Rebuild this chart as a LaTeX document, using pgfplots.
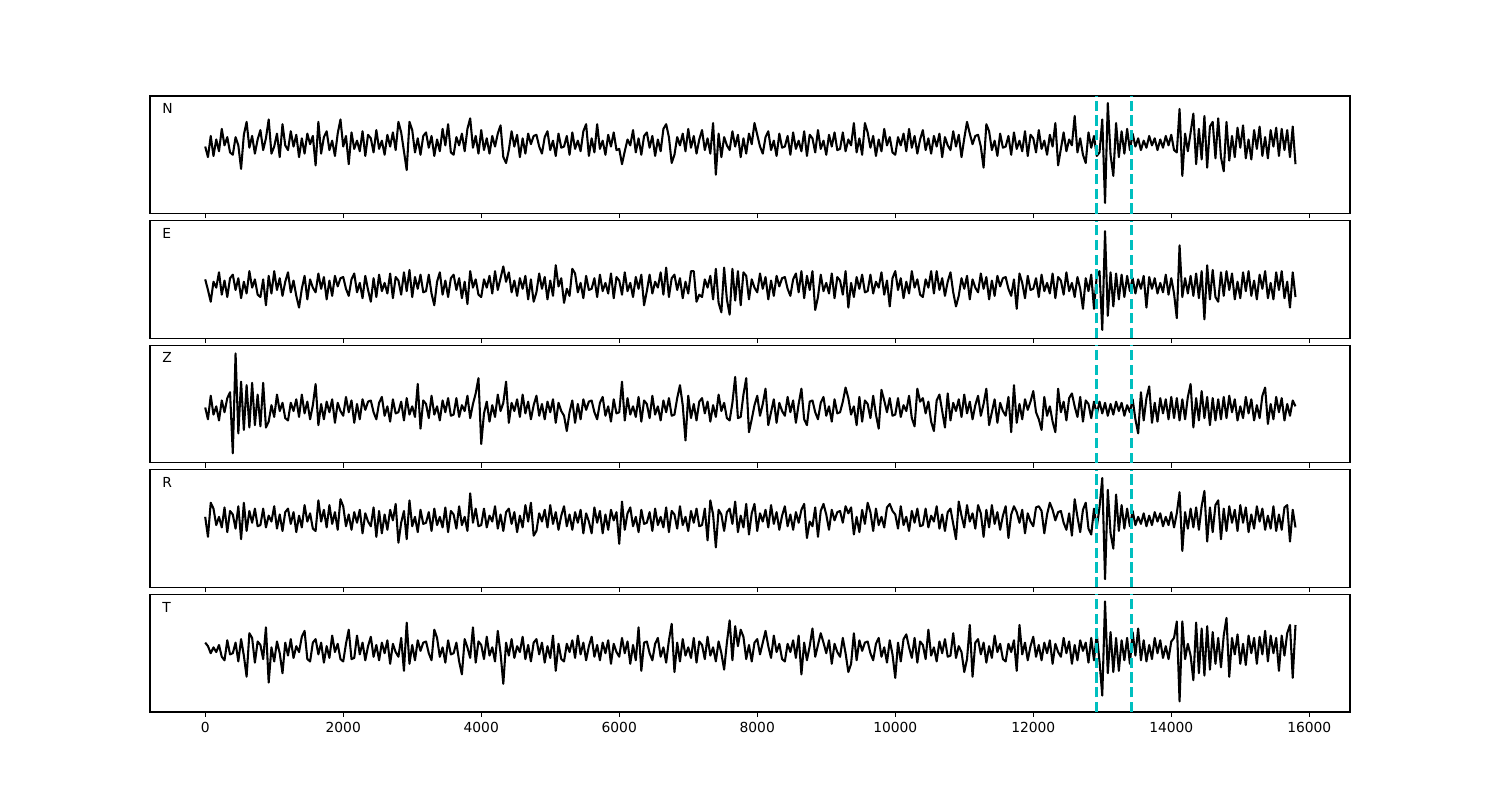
\documentclass[border=0pt]{standalone}
\usepackage{fontspec}
\setmainfont{DejaVu Sans}
\usepackage{pgfplots}
\usepackage{pgfplotstable}
\pgfplotsset{compat=1.18}
\definecolor{mplcyan}{rgb}{0,0.75,0.75}

% traces, in percent of panel height around each baseline
\pgfplotstableread{
x N E Z R T
0 -3 5 1 2 6
40 -12 -4 -9 -15 3
80 6 -14 11 14 -3
120 -11 3 -5 9 2
160 3 -2 2 -5 -2
200 -7 11 -10 2 4
240 12 -8 7 -7 -6
280 -2 4 -3 10 -9
320 5 -10 9 -11 8
360 -8 6 14 7 -4
400 -10 9 -38 4 -3
440 5 -4 47 -8 6
480 -2 6 -21 11 -10
520 -22 -11 23 -17 9
560 7 3 -18 14 -5
600 18 -7 20 -10 -23
640 -4 12 -16 7 14
680 6 -2 22 -3 10
720 -9 5 -14 9 -11
760 3 -8 12 -6 7
800 11 -10 -15 -5 4
840 -6 5 22 9 -8
880 4 -17 -16 -7 19
920 20 8 -11 3 -28
960 -9 -7 3 -2 2
1000 -3 12 -7 11 -10
1040 8 -4 12 -8 7
1080 -12 6 -2 4 -3
1120 16 -9 5 -10 -20
1160 -2 3 -8 6 6
1200 -6 11 -10 9 -5
1240 10 -6 5 -4 9
1280 -3 4 -2 6 -7
1320 7 -9 8 -11 3
1360 -12 -19 -7 3 -2
1400 4 -3 12 -7 11
1440 -9 8 -4 12 16
1480 8 -12 6 -2 -8
1520 -1 5 -9 5 -10
1560 6 -2 3 -8 6
1600 -19 -6 21 -10 9
1640 18 10 -14 16 -4
1680 -9 -3 4 -2 6
1720 5 7 -9 8 -11
1760 10 -12 6 -7 3
1800 -6 4 -3 12 -7
1840 2 -9 8 -4 12
1880 -11 8 -12 6 -2
1920 8 -1 5 -9 5
1960 20 6 -2 17 -8
2000 -3 7 -6 11 -10
2040 6 -3 10 -6 5
2080 -18 -9 -3 4 17
2120 9 5 7 -9 -8
2160 -5 10 -12 6 -7
2200 2 -6 4 -3 12
2240 -7 2 -9 8 -4
2280 10 -11 8 -12 6
2320 -11 8 -1 5 -9
2360 7 -4 6 -2 3
2400 4 -14 7 -6 11
2440 -8 6 -3 10 -6
2480 11 -10 -9 -15 4
2520 -5 9 5 7 -9
2560 2 -5 10 -12 6
2600 -10 2 -6 4 -3
2640 7 -7 2 -9 8
2680 -3 10 -11 8 -12
2720 9 -11 8 -1 5
2760 -6 7 -4 13 -2
2800 18 4 -3 -20 -6
2840 9 -8 6 -3 10
2880 -7 11 -10 7 -18
2920 -23 -5 9 -17 23
2960 18 13 -5 16 -12
3000 11 -10 2 -6 4
3040 -8 7 -7 2 -9
3080 4 -3 21 -11 8
3120 -10 9 -17 8 -1
3160 6 -6 7 -4 6
3200 9 -5 4 -3 7
3240 -4 9 -8 6 -3
3280 6 -7 11 -10 -9
3320 -11 -17 -5 9 17
3360 3 3 2 -5 10
3400 -7 11 -10 2 -6
3440 12 -8 7 -7 2
3480 -2 4 -3 10 -11
3520 16 -10 9 -11 8
3560 -8 6 -6 7 -4
3600 -10 9 -5 4 -3
3640 5 -4 9 -8 6
3680 -2 6 -7 11 -10
3720 8 -11 3 -5 -21
3760 -7 3 -2 2 9
3800 12 -16 11 -10 2
3840 21 12 -8 22 -7
3880 -4 -2 4 -3 19
3920 6 5 13 9 -11
3960 -9 -8 26 -6 7
4000 11 -10 -30 -5 4
4040 -6 5 -4 9 -8
4080 4 -2 6 -7 11
4120 -9 8 -11 3 -5
4160 6 -7 3 -2 2
4200 -3 12 -7 11 -10
4240 8 -4 12 -8 16
4280 15 6 -2 4 -3
4320 -12 16 5 -10 -29
4360 -17 3 23 6 6
4400 -6 11 -12 9 -5
4440 10 -6 5 -4 9
4480 -3 4 -2 6 -7
4520 7 -9 8 -11 3
4560 -12 6 -7 3 -2
4600 4 -3 12 -7 11
4640 -9 8 -4 12 -8
4680 8 -12 6 -2 4
4720 -1 5 -9 14 -10
4760 6 -14 3 -14 6
4800 7 -6 11 -10 9
4840 -3 10 -6 5 -4
4880 -9 -3 4 -2 6
4920 5 7 -9 8 -11
4960 10 -12 6 -7 3
5000 -6 4 -3 12 -7
5040 2 -9 8 -4 12
5080 -11 17 -12 6 -18
5120 8 -1 5 -9 5
5160 -4 6 -2 3 -8
5200 -3 -15 -6 11 -10
5240 6 -3 -19 -6 5
5280 -10 -9 -3 4 -2
5320 9 14 7 -9 8
5360 -5 10 -12 6 -7
5400 2 -6 4 -3 12
5440 -7 2 -9 8 -4
5480 10 -11 8 -12 6
5520 16 8 -1 5 -9
5560 -11 -4 6 -2 3
5600 4 -3 7 -12 11
5640 -8 6 -3 10 -6
5680 16 -10 -9 -3 4
5720 -5 9 5 7 -9
5760 2 -5 10 -12 6
5800 -10 2 -6 4 -3
5840 7 -7 2 -9 8
5880 -3 10 -11 8 -12
5920 9 -11 8 -1 5
5960 -6 7 -4 6 -2
6000 -5 4 -3 -21 -6
6040 -18 -8 23 15 10
6080 -7 11 -10 -9 -3
6120 3 -5 9 5 7
6160 -2 2 -5 10 -12
6200 11 -10 2 -6 4
6240 -8 7 -7 2 -9
6280 4 -3 10 -11 19
6320 -10 9 -11 8 -18
6360 6 -17 7 -4 6
6400 9 -5 4 -3 7
6440 -4 9 -8 6 -3
6480 6 -7 11 -10 -9
6520 -11 3 -5 9 5
6560 3 -2 2 -5 10
6600 -7 11 -10 2 -6
6640 12 -8 7 -7 2
6680 16 15 -3 10 -11
6720 5 -10 9 -11 8
6760 -17 6 -6 7 22
6800 -10 9 -5 4 -19
6840 5 -4 9 -8 6
6880 -2 6 20 11 -10
6920 8 -11 3 -5 9
6960 -7 3 -27 2 -5
7000 12 -7 11 -10 2
7040 -4 12 -8 7 -7
7080 6 12 4 -3 10
7120 -9 -14 -10 9 -11
7160 3 -8 6 -6 7
7200 11 -10 9 -5 4
7240 -6 5 -4 9 -8
7280 4 -2 6 -18 11
7320 -9 8 -11 16 -5
7360 17 -12 3 4 2
7400 -27 14 -7 -24 -10
7440 8 -15 12 8 7
7480 -12 -23 -2 4 -3
7520 5 15 5 -10 -17
7560 -2 -12 -8 6 6
7600 -6 -25 -10 9 25
7640 10 14 5 -4 -9
7680 -3 -13 27 15 20
7720 7 12 -8 -11 3
7760 -12 -17 -7 3 17
7800 4 11 12 -7 11
7840 -9 8 26 13 -8
7880 8 -12 -20 -13 4
7920 -1 5 -9 5 -10
7960 17 -2 3 13 6
8000 7 -6 11 -10 9
8040 -3 10 -6 5 -4
8080 -9 -3 4 -2 6
8120 5 7 17 8 16
8160 10 -12 -14 -7 3
8200 -6 4 -3 12 -7
8240 2 -9 8 -4 12
8280 -11 8 -12 6 -2
8320 8 -1 5 -9 5
8360 -4 6 -2 3 -8
8400 -3 7 -6 11 -10
8440 6 -3 10 -6 5
8480 -10 -9 -3 4 -2
8520 9 5 7 -9 8
8560 -5 10 -12 6 -7
8600 2 -6 4 -3 12
8640 -7 12 17 8 -21
8680 10 -11 -9 13 6
8720 -11 8 -14 -16 -9
8760 7 -4 6 -2 3
8800 4 12 7 -6 18
8840 -8 -21 -3 10 -6
8880 11 -10 -9 -15 4
8920 -5 9 5 7 14
8960 2 -5 10 13 6
9000 -10 2 -6 4 -3
9040 7 -7 2 -9 8
9080 -3 10 -11 8 -12
9120 9 -11 8 -1 5
9160 -6 7 -4 6 -2
9200 -5 4 -3 7 -6
9240 9 -8 6 -3 10
9280 -7 12 18 11 -3
9320 3 -19 9 5 -19
9360 -2 2 -5 10 -12
9400 17 -10 2 -13 14
9440 -8 7 -14 2 -9
9480 4 -3 10 -11 8
9520 -10 9 -11 8 -1
9560 17 -6 7 -4 6
9600 9 -5 4 14 7
9640 -4 9 -8 6 -3
9680 6 -7 11 -10 -9
9720 -11 3 -5 9 5
9760 3 -2 -17 -5 10
9800 -7 11 16 2 -6
9840 12 -8 7 -7 2
9880 -2 4 -3 10 -11
9920 5 -18 9 13 8
9960 -8 6 -6 7 -4
10000 -10 12 -5 4 -24
10040 5 -4 9 -8 6
10080 -2 6 -7 11 -10
10120 8 -11 3 -5 9
10160 -7 3 -2 2 13
10200 12 -7 11 -10 2
10240 -4 12 -8 7 -7
10280 6 -2 -15 -3 10
10320 -9 5 17 9 -11
10360 3 -8 6 -6 7
10400 11 -10 9 -5 4
10440 -6 5 -4 9 -8
10480 4 -2 6 -7 17
10520 -9 12 -11 3 -5
10560 6 -7 -19 -2 2
10600 -3 12 7 11 -10
10640 8 -4 12 -8 7
10680 -12 6 -2 4 -3
10720 5 -9 -16 -10 9
10760 -2 3 13 6 -6
10800 -6 11 -10 9 -5
10840 10 -6 5 -4 14
10880 -3 -18 -2 -17 -7
10920 7 -9 8 15 3
10960 -12 6 -7 3 -2
11000 4 -3 12 -7 -19
11040 18 8 -4 12 -8
11080 8 -12 6 -2 21
11120 -1 5 -9 5 -23
11160 6 -2 3 -8 6
11200 7 -6 11 12 9
11240 -3 10 -6 5 -4
11280 -21 -3 4 -15 6
11320 16 7 17 8 -11
11360 10 -12 -14 -7 3
11400 -6 4 -3 12 -7
11440 2 -9 8 -4 12
11480 -11 8 -12 6 -2
11520 8 -1 5 -9 5
11560 -4 6 -2 3 -8
11600 -3 7 -6 11 -10
11640 6 -3 10 -16 5
11680 -10 -9 -20 4 -2
11720 9 5 20 11 8
11760 -5 -20 -12 6 -18
11800 2 10 4 -3 21
11840 -7 2 -9 8 -4
11880 10 -11 8 -12 6
11920 -11 8 -1 5 -9
11960 7 -4 6 -2 3
12000 4 -3 15 -6 11
12040 -8 6 -3 10 -6
12080 11 -10 -9 11 4
12120 -5 9 -18 7 -9
12160 2 -5 10 -12 6
12200 -10 2 -6 4 -3
12240 7 -7 2 14 8
12280 -3 10 -11 8 -12
12320 17 -11 -20 -1 5
12360 -19 7 17 6 -2
12400 -5 4 -3 7 -6
12440 9 -8 6 -3 10
12480 -7 11 -10 -9 -3
12520 3 -5 9 5 7
12560 -2 2 13 -14 -12
12600 23 -10 2 17 4
12640 -8 7 -7 2 -9
12680 4 -3 10 -11 8
12720 -10 -20 -11 8 -1
12760 -17 6 7 14 6
12800 9 -5 4 -8 -11
12840 -4 9 -8 -13 10
12880 6 -20 6 9 -9
12920 -11 8 -5 -7 13
12960 -8 12 6 10 -10
13000 20 -38 -4 35 -39
13040 -51 46 5 -51 41
13080 34 -26 -6 25 -20
13120 -10 11 4 -12 15
13160 -28 -18 -5 -25 -19
13200 17 10 6 21 10
13240 -12 -12 -2 -10 -18
13280 10 9 5 12 8
13320 -9 -10 -6 -8 -9
13360 12 8 3 9 10
13400 -6 -5 -3 -6 -12
13440 8 6 8 7 15
13480 -3 -7 -9 -5 -5
13520 4 5 -21 2 18
13560 -6 -3 14 -4 -9
13600 2 8 -10 5 8
13640 -4 -19 9 -6 -10
13680 6 7 19 3 4
13720 -2 -3 -12 -5 -8
13760 4 6 5 6 10
13800 -6 -7 -11 -2 -3
13840 3 2 9 5 8
13880 -4 -6 -4 -6 -7
13920 6 9 8 2 3
13960 -2 -8 -9 -5 -8
14000 7 6 10 6 7
14040 -6 -7 -8 -7 10
14080 -8 -28 9 5 24
14120 29 34 -10 23 -44
14160 -28 -10 8 -27 24
14200 8 6 -9 6 -8
14240 -7 -7 10 -8 5
14280 9 8 21 9 -5
14320 25 -9 -16 -7 -26
14360 -18 10 9 10 23
14400 12 -11 -10 -9 -20
14440 -14 12 15 11 18
14480 23 -29 -8 24 -22
14520 -21 17 10 -19 20
14560 14 -12 -14 10 -17
14600 18 13 9 -11 15
14640 -13 -10 -10 12 -12
14680 21 -14 8 16 10
14720 -12 11 -9 -17 -15
14760 -24 -9 10 9 12
14800 18 12 -8 -10 27
14840 -15 -4 11 11 -23
14880 6 10 -3 -3 10
14920 -12 -12 8 8 -4
14960 13 3 -10 -10 13
15000 -4 -11 2 12 -12
15040 15 11 -8 -3 5
15080 -13 -5 10 10 -13
15120 3 12 -4 -11 12
15160 -14 -9 8 4 -3
15200 11 4 -10 -8 10
15240 -5 -12 3 11 -12
15280 14 9 -8 -2 11
15320 -11 -3 11 9 -4
15360 5 12 18 -9 16
15400 -13 -11 -13 3 -10
15440 11 2 4 -8 12
15480 -3 -12 -9 11 -3
15520 13 11 10 -10 10
15560 -11 -4 -3 4 -18
15600 12 12 9 -9 12
15640 -6 -11 -10 10 -5
15680 11 3 4 12 14
15720 -12 -19 -6 -19 21
15760 14 11 7 8 -24
15800 -18 -10 2 -7 21
}\traces

\pgfplotsset{
  panel/.style={
    scale only axis, width=12in, height=1.1756in,
    anchor=south west,
    xmin=-800, xmax=16590,
    xtick={0,2000,...,16000}, ytick=\empty,
    scaled x ticks=false,
    xtick pos=left, tick align=outside,
    major tick length=3.5pt,
    every tick/.style={black, line width=0.8pt},
    axis line style={line width=0.8pt},
    /pgf/number format/assume math mode=true,
    /pgf/number format/1000 sep={},
    tick label style={font=\fontsize{10}{12}\selectfont},
    xticklabels={},
  },
  tr/.style={black, line width=1.5pt, line join=round},
  vl/.style={mplcyan, line width=2pt, dash pattern=on 7.4pt off 3.2pt},
}
\tikzset{lbl/.style={anchor=base west, inner sep=0pt, font=\fontsize{10}{12}\selectfont}}

\begin{document}
\begin{tikzpicture}
\path[use as bounding box] (0,0) rectangle (15in,8in);

\begin{axis}[panel, at={(1.5in,5.8644in)}, ymin=-60, ymax=40]
\addplot[tr] table[x=x, y=N] {\traces};
\addplot[vl] coordinates {(12920,-60) (12920,40)};
\addplot[vl] coordinates {(13425,-60) (13425,40)};
\node[lbl] at (rel axis cs:0.01,0.85) {N};
\end{axis}

\begin{axis}[panel, at={(1.5in,4.6183in)}, ymin=-45, ymax=55]
\addplot[tr] table[x=x, y=E] {\traces};
\addplot[vl] coordinates {(12920,-45) (12920,55)};
\addplot[vl] coordinates {(13425,-45) (13425,55)};
\node[lbl] at (rel axis cs:0.01,0.85) {E};
\end{axis}

\begin{axis}[panel, at={(1.5in,3.3722in)}, ymin=-46, ymax=54]
\addplot[tr] table[x=x, y=Z] {\traces};
\addplot[vl] coordinates {(12920,-46) (12920,54)};
\addplot[vl] coordinates {(13425,-46) (13425,54)};
\node[lbl] at (rel axis cs:0.01,0.85) {Z};
\end{axis}

\begin{axis}[panel, at={(1.5in,2.1261in)}, ymin=-58, ymax=42]
\addplot[tr] table[x=x, y=R] {\traces};
\addplot[vl] coordinates {(12920,-58) (12920,42)};
\addplot[vl] coordinates {(13425,-58) (13425,42)};
\node[lbl] at (rel axis cs:0.01,0.85) {R};
\end{axis}

\begin{axis}[panel, at={(1.5in,0.88in)}, ymin=-53, ymax=47, xticklabels={0,2000,4000,6000,8000,10000,12000,14000,16000}]
\addplot[tr] table[x=x, y=T] {\traces};
\addplot[vl] coordinates {(12920,-53) (12920,47)};
\addplot[vl] coordinates {(13425,-53) (13425,47)};
\node[lbl] at (rel axis cs:0.01,0.85) {T};
\end{axis}
\end{tikzpicture}
\end{document}
